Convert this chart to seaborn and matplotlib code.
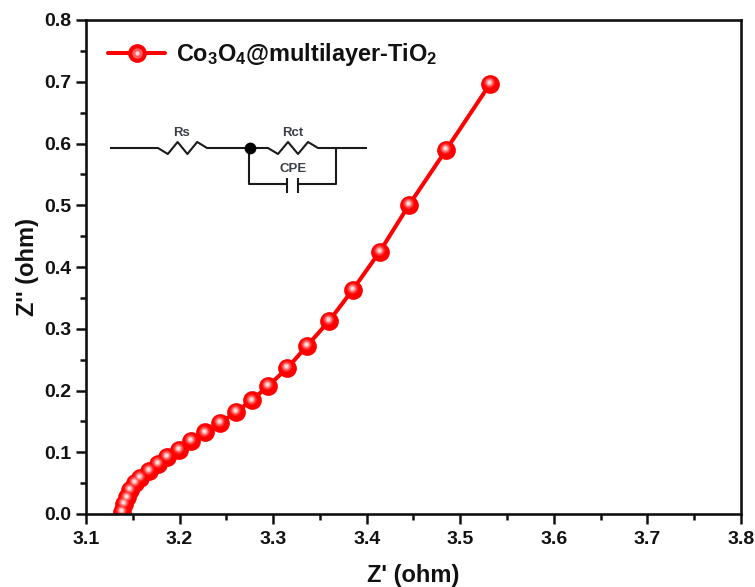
import numpy as np
import pandas as pd
import matplotlib
matplotlib.use("Agg")
import matplotlib.pyplot as plt
import matplotlib.transforms as mtrans
from matplotlib.legend_handler import HandlerTuple
from matplotlib.lines import Line2D
from matplotlib.ticker import MultipleLocator
import seaborn as sns

# values
z_real = [3.139, 3.141, 3.144, 3.147, 3.152, 3.158, 3.167, 3.177, 3.187, 3.199,
          3.212, 3.227, 3.243, 3.260, 3.277, 3.295, 3.315, 3.336, 3.360, 3.385,
          3.414, 3.445, 3.485, 3.532]
z_imag = [0.004, 0.016, 0.027, 0.039, 0.050, 0.059, 0.070, 0.081, 0.092, 0.104,
          0.118, 0.132, 0.147, 0.165, 0.184, 0.208, 0.236, 0.272, 0.313, 0.363,
          0.425, 0.500, 0.590, 0.697]
series_label = r"Co$_{\mathbf{3}}$O$_{\mathbf{4}}$@multilayer-TiO$_{\mathbf{2}}$"
x_ticks = [3.1, 3.2, 3.3, 3.4, 3.5, 3.6, 3.7, 3.8]
y_ticks = [0.0, 0.1, 0.2, 0.3, 0.4, 0.5, 0.6, 0.7, 0.8]

sns.set_theme(style="white")
plt.rcParams["font.family"] = ["Liberation Sans", "DejaVu Sans"]
plt.rcParams["font.weight"] = "bold"
plt.rcParams["text.color"] = "#111111"
plt.rcParams["mathtext.fontset"] = "custom"
plt.rcParams["mathtext.rm"] = "Liberation Sans:bold"
plt.rcParams["mathtext.bf"] = "Liberation Sans:bold"

df = pd.DataFrame({"z_real": z_real, "z_imag": z_imag})

fig = plt.figure(figsize=(7.55, 5.87), dpi=100)
ax = fig.add_axes([86 / 755, (587 - 514) / 587, 655 / 755, 494 / 587])

RED = "#ff0000"
sns.lineplot(data=df, x="z_real", y="z_imag", ax=ax, sort=False, estimator=None,
             color=RED, linewidth=2.9, marker="o", markersize=13.5,
             markeredgewidth=0, zorder=3)

# glossy highlight on each ball, shifted up and to the left
shift = mtrans.offset_copy(ax.transData, fig=fig, x=-0.8, y=1.3, units="points")
for size, col in [(60, "#ff2a2a"), (34, "#ff5e5e"), (18, "#ff9c9c"), (7, "#ffdcdc")]:
    sns.scatterplot(data=df, x="z_real", y="z_imag", ax=ax, s=size, color=col,
                    linewidth=0, transform=shift, zorder=4, legend=False)

ax.set_xlim(3.1, 3.8)
ax.set_ylim(0, 0.8)
ax.set_xticks(x_ticks)
ax.set_yticks(y_ticks)
ax.set_xticklabels([f"{v:.1f}" for v in x_ticks])
ax.set_yticklabels([f"{v:.1f}" for v in y_ticks])
ax.xaxis.set_minor_locator(MultipleLocator(0.05))
ax.yaxis.set_minor_locator(MultipleLocator(0.05))
ax.tick_params(which="major", length=7.5, width=1.8, labelsize=14, colors="#111111",
               bottom=True, left=True)
ax.tick_params(axis="x", which="major", pad=5)
ax.tick_params(axis="y", which="major", pad=3)
ax.tick_params(which="minor", length=4, width=1.8, colors="#111111",
               bottom=True, left=True)
for spine in ax.spines.values():
    spine.set_linewidth(1.9)
    spine.set_color("#111111")
    spine.set_zorder(6)

ax.set_xlabel("Z' (ohm)", fontsize=17, fontweight="bold", labelpad=11, color="#111111")
ax.set_ylabel("Z'' (ohm)", fontsize=17, fontweight="bold", labelpad=4, color="#111111")

# legend, line with a ball built the same way as the data markers
handle = (Line2D([], [], color=RED, lw=2.9, marker="o", ms=13.5, mew=0),
          Line2D([], [], ls="none", marker="o", ms=7.5, mew=0, color="#ff5e5e"),
          Line2D([], [], ls="none", marker="o", ms=3, mew=0, color="#ffdcdc"))
ax.legend([handle], [series_label], handler_map={tuple: HandlerTuple(ndivide=1, pad=0)},
          loc="upper left", bbox_to_anchor=(22 / 655, 1 - 21 / 494), frameon=False,
          fontsize=16.9, handlelength=2.43, handletextpad=0.47, borderpad=0, borderaxespad=0)

# equivalent circuit sketch, drawn in pixel coordinates on a clear overlay
ov = fig.add_axes([0, 0, 1, 1], facecolor="none")
ov.set_xlim(0, 755)
ov.set_ylim(587, 0)
ov.axis("off")


def zigzag(x0, x1, y, n=5, amp=6):
    xs = np.linspace(x0, x1, n + 1)
    ys = [y] + [y + (amp if i % 2 == 0 else -amp) for i in range(n - 1)] + [y]
    return xs, ys


wire = dict(color="#1a1a1a", lw=1.5, solid_capstyle="butt", solid_joinstyle="round")
rs_x, rs_y = zigzag(158, 207, 148)
rct_x, rct_y = zigzag(268, 318, 148)
ov.plot([110, *rs_x, 249, *rct_x, 367], [148, *rs_y, 148, *rct_y, 148], **wire)
ov.plot([249, 249, 287], [148, 184, 184], **wire)
ov.plot([336, 336, 298], [148, 184, 184], **wire)
ov.plot([287, 287], [178, 193], **wire)
ov.plot([298, 298], [178, 193], **wire)
ov.plot([249.5], [148], "o", color="black", ms=8.5, mew=0)
for tx, ty, s in [(182, 133, "Rs"), (293, 133, "Rct"), (293, 169, "CPE")]:
    ov.text(tx, ty, s, ha="center", va="center", fontsize=9.5, fontweight="bold",
            color="#3a3f4a")

fig.savefig("out.png", dpi=100)
